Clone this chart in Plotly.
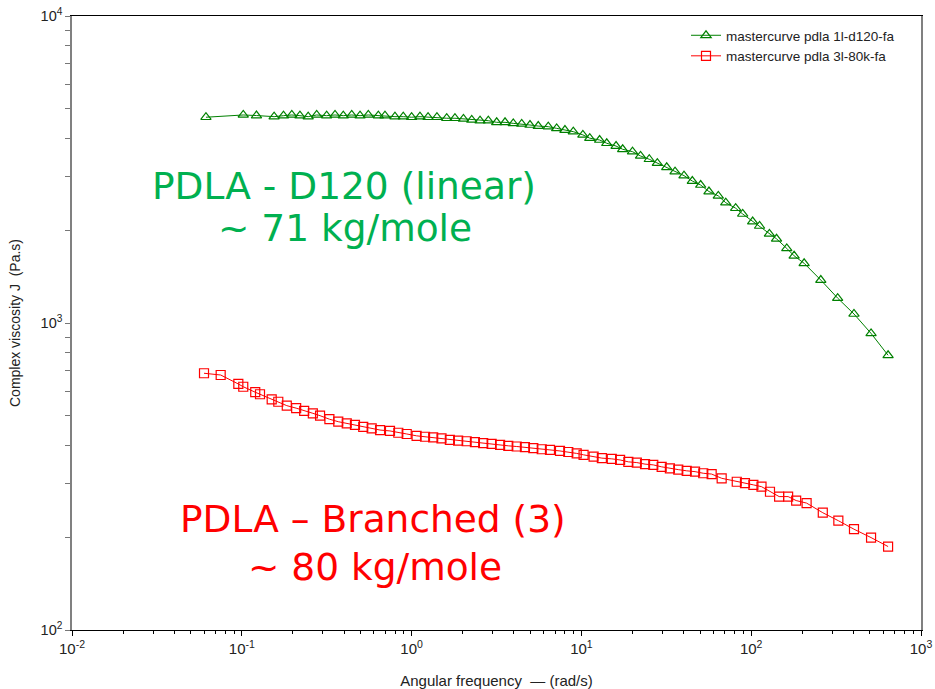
import plotly.graph_objects as go

# ---- data ----
green_name = "mastercurve pdla 1l-d120-fa"
green_x = [0.0615, 0.102, 0.122, 0.155, 0.176, 0.197, 0.220, 0.246, 0.276, 0.316,
           0.354, 0.396, 0.444, 0.497, 0.556, 0.637, 0.697, 0.798, 0.893, 1.00,
           1.12, 1.25, 1.41, 1.61, 1.80, 2.02, 2.26, 2.53, 2.83, 3.17,
           3.55, 3.97, 4.45, 4.98, 5.57, 6.38, 7.15, 8.00, 8.96, 10.2,
           11.2, 12.8, 14.1, 16.0, 17.5, 20.0, 22.3, 25.1, 28.0, 31.8,
           35.6, 40.2, 45.0, 50.4, 56.4, 64.0, 70.8, 81.0, 89.1, 102,
           112, 128, 141, 162, 179, 205, 257, 323, 403, 508, 640]
green_y = [4680, 4760, 4740, 4700, 4735, 4760, 4735, 4700, 4760, 4735,
           4760, 4735, 4760, 4735, 4760, 4735, 4735, 4700, 4700, 4680,
           4700, 4680, 4680, 4645, 4645, 4620, 4585, 4560, 4560, 4505,
           4505, 4470, 4450, 4415, 4380, 4360, 4305, 4250, 4200, 4100,
           4000, 3945, 3850, 3770, 3680, 3615, 3500, 3415, 3315, 3215,
           3110, 3020, 2900, 2815, 2680, 2595, 2465, 2365, 2265, 2140,
           2070, 1950, 1880, 1750, 1655, 1565, 1380, 1205, 1070, 925, 785]

red_name = "mastercurve pdla 3l-80k-fa"
red_x = [0.0599, 0.0751, 0.0954, 0.102, 0.120, 0.128, 0.150, 0.164, 0.184, 0.209,
         0.233, 0.262, 0.289, 0.328, 0.370, 0.415, 0.464, 0.519, 0.582, 0.652,
         0.746, 0.835, 0.936, 1.07, 1.20, 1.34, 1.50, 1.68, 1.88, 2.11,
         2.36, 2.64, 2.96, 3.32, 3.71, 4.16, 4.65, 5.21, 5.84, 6.53,
         7.48, 8.37, 9.38, 10.3, 11.8, 13.2, 15.1, 16.9, 18.9, 21.2,
         23.7, 26.5, 29.7, 33.2, 37.2, 41.7, 46.7, 52.2, 58.5, 67.0,
         82.2, 91.9, 103, 115, 129, 146, 165, 184, 212, 264,
         326, 403, 508, 640]
red_y = [686, 677, 633, 620, 595, 586, 564, 554, 538, 528,
         517, 508, 499, 486, 477, 471, 466, 459, 454, 448,
         445, 439, 435, 429, 426, 424, 421, 416, 414, 412,
         409, 406, 404, 401, 398, 396, 394, 391, 388, 386,
         383, 380, 376, 372, 367, 363, 361, 358, 353, 351,
         347, 345, 340, 336, 333, 330, 328, 324, 322, 312,
         304, 301, 297, 293, 282, 272, 272, 264, 259, 241,
         227, 213, 200, 187]

x_tickvals = [0.01, 0.1, 1, 10, 100, 1000]
x_ticktext = ["10<sup>-2</sup>", "10<sup>-1</sup>", "10<sup>0</sup>",
              "10<sup>1</sup>", "10<sup>2</sup>", "10<sup>3</sup>"]
y_tickvals = [100, 1000, 10000]
y_ticktext = ["10<sup>2</sup>", "10<sup>3</sup>", "10<sup>4</sup>"]

x_minor = [m * 10.0 ** e for e in range(-2, 3) for m in range(2, 10)]
y_minor = [m * 10.0 ** e for e in range(2, 4) for m in range(2, 10)]

GREEN = "#008000"
RED = "#FF0000"
TXT_GREEN = "#00B050"
NARROW = "Liberation Sans Narrow, Arial Narrow, Liberation Sans, Arial"

fig = go.Figure()
fig.add_trace(go.Scatter(
    x=green_x, y=green_y, name=green_name, mode="lines+markers",
    line=dict(color=GREEN, width=1),
    marker=dict(symbol="triangle-up-open", size=9, color=GREEN, line=dict(width=1.2)),
))
fig.add_trace(go.Scatter(
    x=red_x, y=red_y, name=red_name, mode="lines+markers",
    line=dict(color=RED, width=1),
    marker=dict(symbol="square-open", size=9, color=RED, line=dict(width=1.2)),
))

L, R, T, B = 72, 14, 16, 59
W, H = 935, 689
pw, ph = W - L - R, H - T - B


def px(x):
    return (x - L) / pw


def py(y):
    return (H - B - y) / ph


annos = [
    ("PDLA - D120 (linear)", 344, 186, TXT_GREEN),
    ("~ 71 kg/mole", 345, 228, TXT_GREEN),
    ("PDLA \u2013 Branched (3)", 373, 519, RED),
    ("~ 80 kg/mole", 375, 567, RED),
]
for text, ax_, ay_, col in annos:
    fig.add_annotation(text=text, x=px(ax_), y=py(ay_), xref="paper", yref="paper",
                       xanchor="center", yanchor="middle", showarrow=False,
                       font=dict(family="DejaVu Sans", size=37.5, color=col))

fig.update_layout(
    width=W, height=H,
    margin=dict(l=L, r=R, t=T, b=B, autoexpand=False),
    paper_bgcolor="white", plot_bgcolor="white",
    font=dict(family="Liberation Sans, Arial", size=12, color="black"),
    showlegend=True,
    legend=dict(x=px(686), y=py(20), xanchor="left", yanchor="top",
                bgcolor="rgba(0,0,0,0)", itemwidth=30,
                font=dict(family="Liberation Sans, Arial", size=13.5, color="#222"),
                tracegroupgap=0),
    xaxis=dict(
        type="log", range=[-2, 3], automargin=False,
        tickmode="array", tickvals=x_tickvals, ticktext=x_ticktext,
        ticks="outside", ticklen=5, tickcolor="black", tickwidth=1,
        minor=dict(tickmode="array", tickvals=x_minor, ticks="outside",
                   ticklen=3, tickcolor="black", tickwidth=1, showgrid=False),
        showline=True, linecolor="black", linewidth=1, mirror=True,
        showgrid=False, zeroline=False,
        tickfont=dict(family="Liberation Sans, Arial", size=15, color="#222"),
        title=dict(text="Angular frequency  \u2014 (rad/s)", standoff=19,
                   font=dict(family=NARROW, size=15, color="#222")),
    ),
    yaxis=dict(
        type="log", range=[2, 4], automargin=False,
        tickmode="array", tickvals=y_tickvals, ticktext=y_ticktext,
        ticks="outside", ticklen=5, tickcolor="#777", tickwidth=1,
        minor=dict(tickmode="array", tickvals=y_minor, ticks="outside",
                   ticklen=5, tickcolor="#777", tickwidth=1, showgrid=False),
        showline=True, linecolor="#808080", linewidth=1.5, mirror=True,
        showgrid=False, zeroline=False,
        tickfont=dict(family="Liberation Sans, Arial", size=14.5, color="#222"),
        title=dict(text="Complex viscosity J  (Pa.s)", standoff=17,
                   font=dict(family=NARROW, size=14, color="#222")),
    ),
)

fig.write_html("out.html")
